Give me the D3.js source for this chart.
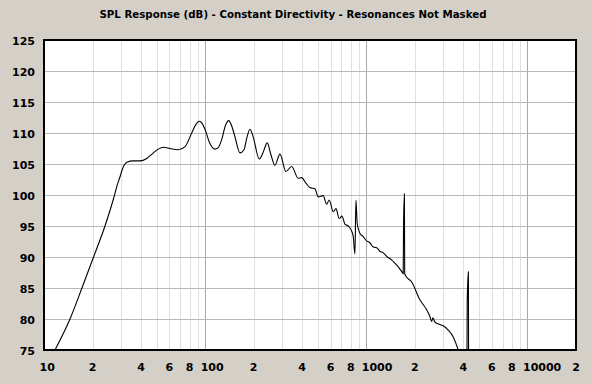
<!DOCTYPE html>
<html>
<head>
<meta charset="utf-8">
<script src="https://cdn.jsdelivr.net/npm/d3@7"></script>
<style>
  html, body { margin: 0; padding: 0; background: #d4d0c8; }
  svg { display: block; }
  text { font-family: "DejaVu Sans", sans-serif; font-weight: bold; fill: #000; }
</style>
</head>
<body>
<script>
// ---- data ----
const titleText = "SPL Response (dB) - Constant Directivity - Resonances Not Masked";

const freq = [11.7, 14.5, 17.2, 20.3, 23.9, 27.4, 28.4, 29.6, 30.5, 31.4, 32.7, 35.7, 39.4, 43.4, 46.8,
  51.2, 55.0, 60.5, 68.1, 75.0, 82.5, 87.7, 91.9, 95.5, 99.7, 107, 115, 120.1, 126.5, 133.6,
  140.1, 146.7, 153, 164.4, 174.1, 181.7, 189.7, 198, 216.6, 228.4, 242.8, 255.9, 271, 291.1, 317.1,
  344.1, 378, 396.8, 421.9, 446.8, 479.9, 503, 540.3, 567.2, 588.6, 623.4, 647.8, 679.1, 705.7, 736.6,
  772.2, 810.6, 829.3, 849.7, 862, 878, 912.6, 956.6, 1004, 1053, 1104, 1160, 1214, 1270, 1336, 1441, 1504,
  1593, 1663, 1694, 1702, 1723, 1730, 1761, 1910, 2150, 2366, 2480, 2542, 2590, 2665, 2862,
  3000, 3222, 3460, 3717, 3862, 4209, 4227, 4299, 4311, 5066, 20000];

const spl = [75, 80, 85, 90, 95, 100, 101.5, 102.9, 104.0, 104.8, 105.3, 105.5, 105.5, 105.9, 106.6,
  107.4, 107.7, 107.5, 107.3, 107.8, 110.0, 111.4, 111.9, 111.6, 110.6, 108.3, 107.4, 107.6, 108.9, 111.2,
  112.0, 111.0, 109.4, 106.8, 107.3, 109.3, 110.6, 109.5, 105.8, 106.8, 108.4, 106.5, 104.8, 106.6, 103.8,
  104.6, 102.7, 102.8, 101.9, 101.2, 101.0, 99.7, 99.9, 98.5, 99.2, 97.3, 97.8, 96.2, 96.6, 95.3,
  95.0, 94.2, 93.3, 90.5, 99.2, 95.4, 93.8, 93.3, 92.6, 92.3, 91.6, 91.5, 90.9, 90.7, 90.1, 89.5, 89.0,
  88.3, 87.6, 87.3, 95.2, 100.2, 87.3, 86.9, 86.0, 83.1, 81.5, 80.4, 79.6, 80.2, 79.5, 79.1,
  78.9, 78.2, 77.1, 75.0, 73.5, 72.0, 82.8, 87.6, 71.5, 70, 60];

const xDomain = [10, 20000];
const yDomain = [75, 125];
const yTicks = [75, 80, 85, 90, 95, 100, 105, 110, 115, 120, 125];
const xLabelValues = [10, 20, 40, 60, 80, 100, 200, 400, 600, 800, 1000, 2000, 4000, 6000, 8000, 10000, 20000];
const xLabelTexts  = ["10", "2", "4", "6", "8", "100", "2", "4", "6", "8", "1000", "2", "4", "6", "8", "10000", "2"];

// ---- layout ----
const W = 592, H = 384;
const L = 44, R = 576, T = 40, B = 350;

const svg = d3.select("body").append("svg").attr("width", W).attr("height", H);

const x = d3.scaleLog().domain(xDomain).range([L, R]);
const y = d3.scaleLinear().domain(yDomain).range([B, T]);

// title
svg.append("text")
  .attr("x", 293).attr("y", 17.5)
  .attr("text-anchor", "middle")
  .attr("font-size", 10.5)
  .attr("textLength", 387).attr("lengthAdjust", "spacingAndGlyphs")
  .text(titleText);

// plot background
svg.append("rect").attr("x", L).attr("y", T).attr("width", R - L).attr("height", B - T).attr("fill", "#fff");

// vertical grid (log)
const gridFreqs = [];
for (let dec = 10; dec <= 10000; dec *= 10) {
  for (let k = 1; k <= 9; k++) {
    const f = k * dec;
    if (f > xDomain[0] && f < xDomain[1]) gridFreqs.push(f);
  }
}
svg.append("g").selectAll("line").data(gridFreqs).join("line")
  .attr("x1", d => Math.round(x(d)) + 0.5).attr("x2", d => Math.round(x(d)) + 0.5)
  .attr("y1", T).attr("y2", B)
  .attr("stroke", d => (Math.log10(d) % 1 === 0) ? "#a8a8a8" : "#e0e0e0")
  .attr("stroke-width", 1);

// horizontal grid
svg.append("g").selectAll("line").data(yTicks.slice(1, -1)).join("line")
  .attr("x1", L).attr("x2", R)
  .attr("y1", d => Math.round(y(d)) + 0.5).attr("y2", d => Math.round(y(d)) + 0.5)
  .attr("stroke", "#b8b8b8").attr("stroke-width", 1);

// curve
svg.append("clipPath").attr("id", "clip")
  .append("rect").attr("x", L).attr("y", T).attr("width", R - L).attr("height", B - T);

const pts = freq.map((f, i) => [f, spl[i]]);
const line = d3.line().x(d => x(d[0])).y(d => y(d[1])).curve(d3.curveMonotoneX);
svg.append("path")
  .attr("clip-path", "url(#clip)")
  .attr("d", line(pts))
  .attr("fill", "none").attr("stroke", "#000").attr("stroke-width", 1.1);

// border
svg.append("rect").attr("x", L).attr("y", T).attr("width", R - L).attr("height", B - T)
  .attr("fill", "none").attr("stroke", "#000").attr("stroke-width", 2);

// y labels
svg.append("g").selectAll("text").data(yTicks).join("text")
  .attr("x", 35).attr("y", d => y(d) + 4.5)
  .attr("text-anchor", "end").attr("font-size", 11)
  .text(d => d);

// x labels
svg.append("g").selectAll("text").data(xLabelValues).join("text")
  .attr("x", (d, i) => xLabelTexts[i].length > 1 ? x(d) - 4.5 : x(d))
  .attr("y", 370.5)
  .attr("text-anchor", (d, i) => xLabelTexts[i].length > 1 ? "start" : "middle")
  .attr("font-size", 11)
  .text((d, i) => xLabelTexts[i]);
</script>
</body>
</html>
